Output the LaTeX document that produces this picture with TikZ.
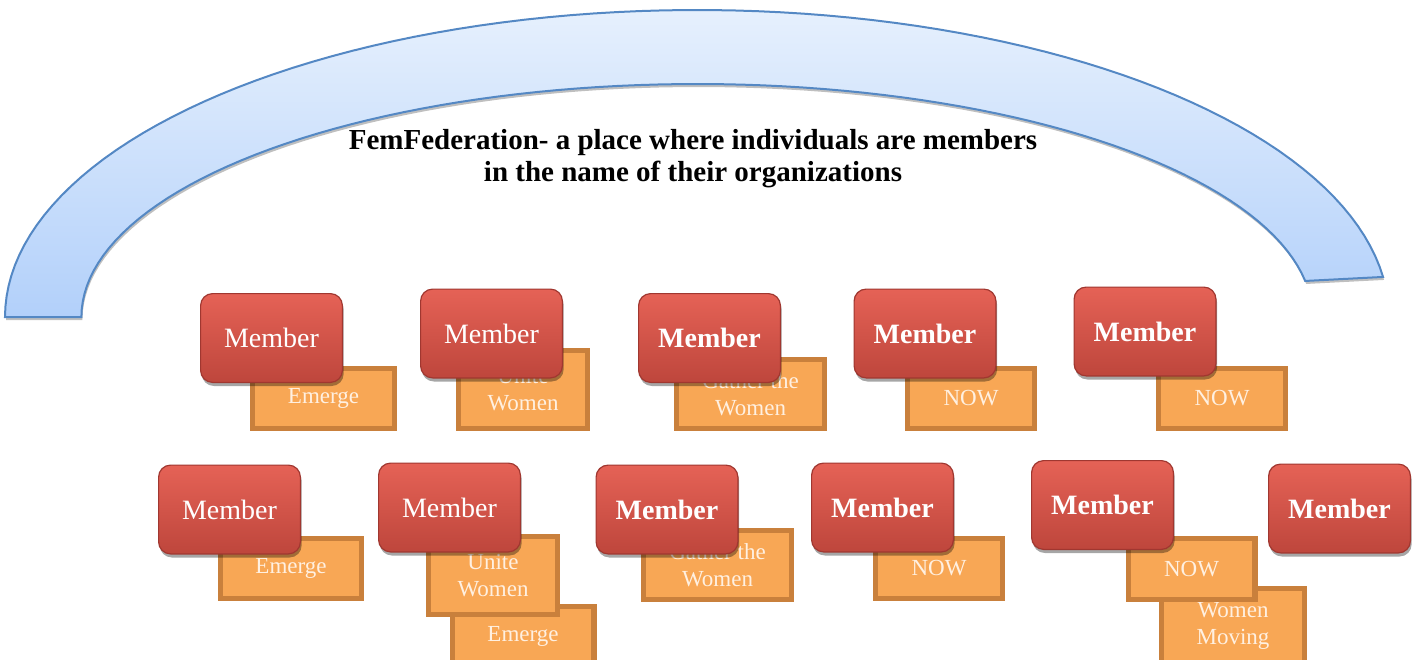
\documentclass[tikz,border=0pt]{standalone}
\usepackage{fontspec}
\setmainfont{Liberation Serif}
\usetikzlibrary{shadows}
\definecolor{arcedge}{RGB}{84,136,196}
\definecolor{arctop}{RGB}{230,240,253}
\definecolor{arcbot}{RGB}{178,208,250}
\definecolor{redtop}{RGB}{229,98,86}
\definecolor{redbot}{RGB}{190,70,60}
\definecolor{rededge}{RGB}{160,55,48}
\definecolor{orfill}{RGB}{248,167,85}
\definecolor{oredge}{RGB}{201,128,60}
\definecolor{ortext}{RGB}{255,240,225}
\begin{document}
\begin{tikzpicture}[x=0.5pt,y=-0.5pt,
  memberbox/.style={rectangle, rounded corners=6pt, draw=rededge, line width=0.6pt,
    top color=redtop, bottom color=redbot, minimum width=70.9pt, minimum height=44.4pt,
    inner sep=0pt, text=white, font=\fontsize{14}{16}\selectfont,
    drop shadow={shadow xshift=0.6pt, shadow yshift=-1.8pt, opacity=0.35, fill=black}},
  memberbold/.style={memberbox, font=\fontsize{14}{16}\selectfont\bfseries},
  orgbox/.style 2 args={rectangle, draw=oredge, fill=orfill, line width=2.6pt, inner sep=0pt,
    text=ortext, align=center, font=\fontsize{11.5}{13.5}\selectfont,
    minimum width={#1*0.5pt-2.6pt}, minimum height={#2*0.5pt-2.6pt}},
  titletext/.style={align=center, font=\fontsize{14.5}{16}\selectfont\bfseries, text=black}
]
\useasboundingbox (0,0) rectangle (1416,659);
\clip (0,0) rectangle (1416,659);
% block arc
\path[draw=arcedge, line width=1pt, top color=arctop, bottom color=arcbot,
  drop shadow={shadow xshift=0.5pt, shadow yshift=-1.5pt, opacity=0.25, fill=black}]
  plot[domain=180:352.5, samples=90] ({697+692*cos(\x)},{317+307*sin(\x)})
  -- plot[domain=351.1:180, samples=90] ({697+615.6*cos(\x)},{317+233*sin(\x)}) -- cycle;
\node[titletext] (title) at (693,159) {FemFederation- a place where individuals are members\\in the name of their organizations};
% organisation boxes (lowest first)
\node[orgbox={147}{65}] (o11) at (523,636.5) {Emerge};
\node[orgbox={148}{80}] (o12) at (1233,626) {Women\\Moving};
\node[orgbox={147}{65}] (o1) at (323.5,398.5) {Emerge};
\node[orgbox={134}{83}] (o2) at (523,389.5) {Unite\\Women};
\node[orgbox={153}{74}] (o3) at (750.5,394) {Gather the\\Women};
\node[orgbox={132}{65}] (o4) at (971,398.5) {NOW};
\node[orgbox={132}{65}] (o5) at (1222,398.5) {NOW};
\node[orgbox={146}{65}] (o6) at (291,568.5) {Emerge};
\node[orgbox={134}{83}] (o7) at (493,575.5) {Unite\\Women};
\node[orgbox={153}{74}] (o8) at (717.5,565) {Gather the\\Women};
\node[orgbox={132}{65}] (o9) at (939,568.5) {NOW};
\node[orgbox={132}{66}] (o10) at (1191.5,569) {NOW};
% members
\node[memberbox] (m1) at (271.5,338) {Member};
\node[memberbox] (m2) at (491.5,333.5) {Member};
\node[memberbold] (m3) at (709.5,338) {Member};
\node[memberbold] (m4) at (925,333.5) {Member};
\node[memberbold] (m5) at (1145,331.5) {Member};
\node[memberbox] (m6) at (229.5,509.5) {Member};
\node[memberbox] (m7) at (449.5,507.5) {Member};
\node[memberbold] (m8) at (667,509.5) {Member};
\node[memberbold] (m9) at (882.5,507.5) {Member};
\node[memberbold] (m10) at (1102.5,505) {Member};
\node[memberbold] (m11) at (1339.5,508.5) {Member};
\end{tikzpicture}
\end{document}
